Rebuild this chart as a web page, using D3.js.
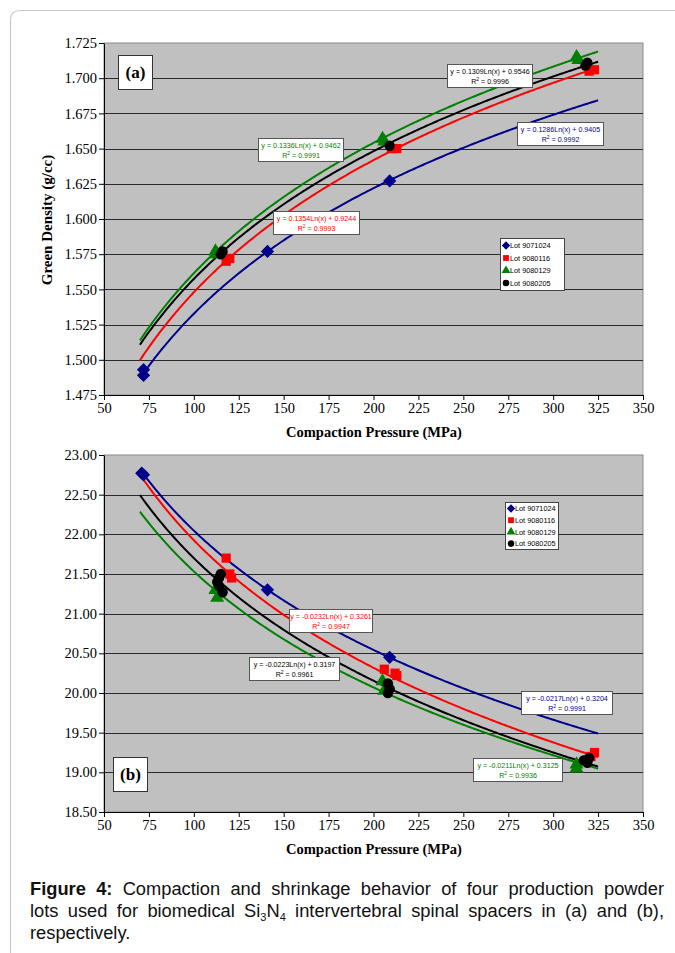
<!DOCTYPE html>
<html><head><meta charset="utf-8">
<script src="https://cdn.jsdelivr.net/npm/d3@7"></script>
<style>body{margin:0;background:#fff}svg{display:block}</style>
</head><body>
<svg id="c" width="675" height="953"></svg>
<script>
// ---------- DATA ----------
const lots = ["Lot 9071024","Lot 9080116","Lot 9080129","Lot 9080205"];
const colors = ["#00008b","#ff0000","#008000","#000000"];
const xTicks = [50,75,100,125,150,175,200,225,250,275,300,325,350];
const yTicksA = [1.475,1.500,1.525,1.550,1.575,1.600,1.625,1.650,1.675,1.700,1.725];
const yTicksB = [18.5,19.0,19.5,20.0,20.5,21.0,21.5,22.0,22.5,23.0];

// (a) green density, [pressure, density]
const densA = [
  [[72,1.493],[72,1.489],[141,1.577],[209,1.627]],
  [[118,1.570],[120,1.572],[210,1.650],[213,1.650],[320,1.705],[323,1.706]],
  [[112,1.577],[113,1.575],[205,1.657],[206,1.655],[313,1.715],[314,1.713]],
  [[115,1.575],[116,1.577],[209,1.652],[318,1.709],[319,1.711]]
];
// (b) shrinkage (%), [pressure, value]
const shrB = [
  [[71,22.77],[72,22.75],[141,21.30],[209,20.45]],
  [[118,21.70],[120,21.50],[121,21.45],[206,20.30],[212,20.25],[213,20.22],[321,19.20],[323,19.25]],
  [[112,21.30],[113,21.20],[205,20.15],[206,20.03],[313,19.05],[313,19.10]],
  [[114,21.45],[115,21.50],[113,21.40],[114,21.35],[116,21.27],[208,20.12],[209,20.05],[208,20.00],[317,19.15],[319,19.12],[320,19.18]]
];
// trendline coefficients  y = a*ln(x) + b
const fitA_a = [0.1286,0.1354,0.1336,0.1309];
const fitA_b = [0.9405,0.9244,0.9462,0.9546];
const r2A = ["0.9992","0.9993","0.9991","0.9996"];
const fitB_a = [-0.0217,-0.0232,-0.0211,-0.0223];
const fitB_b = [0.3204,0.3261,0.3125,0.3197];
const r2B = ["0.9991","0.9947","0.9936","0.9961"];
const fitRange = [70,325];

// ---------- DRAW ----------
const svg = d3.select("#c");
const serif = "'Liberation Serif','Times New Roman',serif";
const sans = "'Liberation Sans',Arial,sans-serif";

// outer frame
svg.append("path").attr("d","M10.5,953 L10.5,20 Q10.5,10.5 20,10.5 L675,10.5")
  .attr("fill","none").attr("stroke","#c8c8c8").attr("stroke-width",1.2);

const wideDiamond = {draw(ctx,size){const r=Math.sqrt(size)/1.35;ctx.moveTo(0,-r);ctx.lineTo(r,0);ctx.lineTo(0,r);ctx.lineTo(-r,0);ctx.closePath();}};
const symbols = [wideDiamond, d3.symbolSquare, d3.symbolTriangle, d3.symbolCircle];
const symSize = [80,85,85,85];

function fmtA(v){return v.toFixed(3);}
function fmtB(v){return v.toFixed(2);}

function chart(cfg){
  const x = d3.scaleLinear([50,350],[104,643]);
  const y = d3.scaleLinear(cfg.yDomain, cfg.yRange);
  const g = svg.append("g");
  const [x0,x1] = x.range(), [yb,yt] = y.range();
  g.append("rect").attr("x",x0).attr("y",yt).attr("width",x1-x0).attr("height",yb-yt)
    .attr("fill","#c0c0c0").attr("stroke","#8a8a8a").attr("stroke-width",1);
  // grid
  g.selectAll(".grid").data(cfg.yTicks.slice(1,-1)).join("line")
    .attr("x1",x0).attr("x2",x1).attr("y1",d=>Math.round(y(d))+0.5).attr("y2",d=>Math.round(y(d))+0.5)
    .attr("stroke","#2a2a2a").attr("stroke-width",1.2);
  // axes
  const ax = g.append("g").attr("transform",`translate(0,${yb})`)
    .call(d3.axisBottom(x).tickValues(xTicks).tickSize(5).tickSizeOuter(0).tickPadding(3));
  ax.select(".domain").attr("stroke","#000");
  ax.selectAll("text").attr("font-family",serif).attr("font-size",14.5).attr("fill","#000");
  const ay = g.append("g").attr("transform",`translate(${x0},0)`)
    .call(d3.axisLeft(y).tickValues(cfg.yTicks).tickFormat(cfg.fmt).tickSize(5).tickSizeOuter(0).tickPadding(2));
  ay.select(".domain").attr("stroke","#000");
  ay.selectAll("text").attr("font-family",serif).attr("font-size",14.5).attr("fill","#000");
  // axis title
  g.append("text").attr("x",374).attr("y",yb+42).attr("text-anchor","middle")
    .attr("font-family",serif).attr("font-weight","bold").attr("font-size",14.5)
    .text("Compaction Pressure (MPa)");
  // trendlines
  const xs = d3.range(fitRange[0], fitRange[1]+0.01, 1);
  const line = d3.line().x(d=>x(d[0])).y(d=>y(d[1])).curve(d3.curveLinear);
  cfg.fa.forEach((a,i)=>{
    const pts = xs.map(v=>[v, cfg.scale*(a*Math.log(v)+cfg.fb[i])]);
    g.append("path").attr("d",line(pts)).attr("fill","none")
      .attr("stroke",colors[i]).attr("stroke-width",2);
  });
  // markers
  cfg.data.forEach((ser,i)=>{
    g.selectAll(null).data(ser).join("path")
      .attr("d",d3.symbol(symbols[i],symSize[i]))
      .attr("transform",d=>`translate(${x(d[0])},${y(d[1])})`)
      .attr("fill",colors[i]);
  });
  // equation boxes
  cfg.boxes.forEach(bx=>{
    const i = bx.i;
    const bg = g.append("g").attr("transform",`translate(${bx.x},${bx.y})`);
    bg.append("rect").attr("x",0.5).attr("y",0.5).attr("width",bx.w).attr("height",23)
      .attr("fill","#fff").attr("stroke","#555").attr("stroke-width",1);
    const a = cfg.fa[i], b = cfg.fb[i];
    const eq = `y = ${a.toFixed(4)}Ln(x) + ${b.toFixed(4)}`;
    bg.append("text").attr("x",bx.w/2+0.5).attr("y",9.5).attr("text-anchor","middle")
      .attr("font-family",sans).attr("font-size",7.1).attr("fill",colors[i]).text(eq);
    const t = bg.append("text").attr("x",bx.w/2+0.5).attr("y",19.5).attr("text-anchor","middle")
      .attr("font-family",sans).attr("font-size",7.1).attr("fill",colors[i]);
    t.append("tspan").text("R");
    t.append("tspan").attr("dy",-3).attr("font-size",5).text("2");
    t.append("tspan").attr("dy",3).text(" = " + cfg.r2[i]);
  });
  // legend
  const L = cfg.legend;
  const lg = g.append("g").attr("transform",`translate(${L.x},${L.y})`);
  lg.append("rect").attr("x",0.5).attr("y",0.5).attr("width",L.w).attr("height",L.h)
    .attr("fill","#fff").attr("stroke","#444").attr("stroke-width",1);
  lots.forEach((nm,i)=>{
    const yy = L.pad + i*L.step;
    lg.append("path").attr("d",d3.symbol(symbols[i],symSize[i]*0.4))
      .attr("transform",`translate(6,${yy})`).attr("fill",colors[i]);
    lg.append("text").attr("x",10).attr("y",yy+2.6).attr("font-family",sans)
      .attr("font-size",7.3).attr("fill","#000").text(nm);
  });
  // panel label
  const P = cfg.panel;
  g.append("rect").attr("x",P.x+0.5).attr("y",P.y+0.5).attr("width",34).attr("height",34)
    .attr("fill","#fff").attr("stroke","#333").attr("stroke-width",1);
  g.append("text").attr("x",P.x+17.5).attr("y",P.y+23).attr("text-anchor","middle")
    .attr("font-family",serif).attr("font-weight","bold").attr("font-size",17).text(P.t);
  return g;
}

chart({
  yDomain:[1.475,1.725], yRange:[395,43], yTicks:yTicksA, fmt:fmtA,
  data:densA, fa:fitA_a, fb:fitA_b, r2:r2A, scale:1,
  boxes:[{i:3,x:447,y:64,w:85},{i:0,x:517,y:122,w:86},{i:2,x:258,y:138,w:85},{i:1,x:273,y:211,w:86}],
  legend:{x:500,y:238,w:64,h:52,pad:7.5,step:12.5},
  panel:{x:118,y:55,t:"(a)"}
});
// y-axis title (a)
svg.append("text").attr("transform","translate(52,220) rotate(-90)").attr("text-anchor","middle")
  .attr("font-family",serif).attr("font-weight","bold").attr("font-size",15)
  .text("Green Density (g/cc)");

chart({
  yDomain:[18.5,23], yRange:[812,455], yTicks:yTicksB, fmt:fmtB,
  data:shrB, fa:fitB_a, fb:fitB_b, r2:r2B, scale:100,
  boxes:[{i:1,x:289,y:609,w:83},{i:3,x:249,y:657,w:90},{i:0,x:521,y:691,w:91},{i:2,x:473,y:758,w:89}],
  legend:{x:505,y:502,w:53,h:47,pad:6.5,step:11.7},
  panel:{x:113,y:757,t:"(b)"}
});

// ---------- CAPTION ----------
const capLines = [
  {just:true, words:[[["Figure",1]],[["4:",1]],[["Compaction"]],[["and"]],[["shrinkage"]],[["behavior"]],[["of"]],[["four"]],[["production"]],[["powder"]]]},
  {just:true, words:[[["lots"]],[["used"]],[["for"]],[["biomedical"]],[["Si"],["3",0,1],["N"],["4",0,1]],[["intervertebral"]],[["spinal"]],[["spacers"]],[["in"]],[["(a)"]],[["and"]],[["(b),"]]]},
  {just:false, words:[[["respectively."]]]}
];
const capX0 = 30, capX1 = 664, capY = [895, 917, 939], capFS = 18.3;
capLines.forEach((ln,li)=>{
  const nodes = ln.words.map(w=>{
    const t = svg.append("text").attr("y",capY[li]).attr("font-family",sans)
      .attr("font-size",capFS).attr("fill","#111");
    let prevSub=false;
    w.forEach(seg=>{
      const ts = t.append("tspan").text(seg[0]);
      if(seg[1]) ts.attr("font-weight","bold");
      if(seg[2]){ ts.attr("font-size",capFS*0.6).attr("dy",4); prevSub=true; }
      else if(prevSub){ ts.attr("dy",-4); prevSub=false; }
    });
    return t;
  });
  const widths = nodes.map(n=>n.node().getComputedTextLength());
  const total = d3.sum(widths);
  const space = ln.just ? (capX1-capX0-total)/(nodes.length-1) : capFS*0.28;
  let cx = capX0;
  nodes.forEach((n,i)=>{ n.attr("x",cx); cx += widths[i]+space; });
});
</script>
</body></html>
